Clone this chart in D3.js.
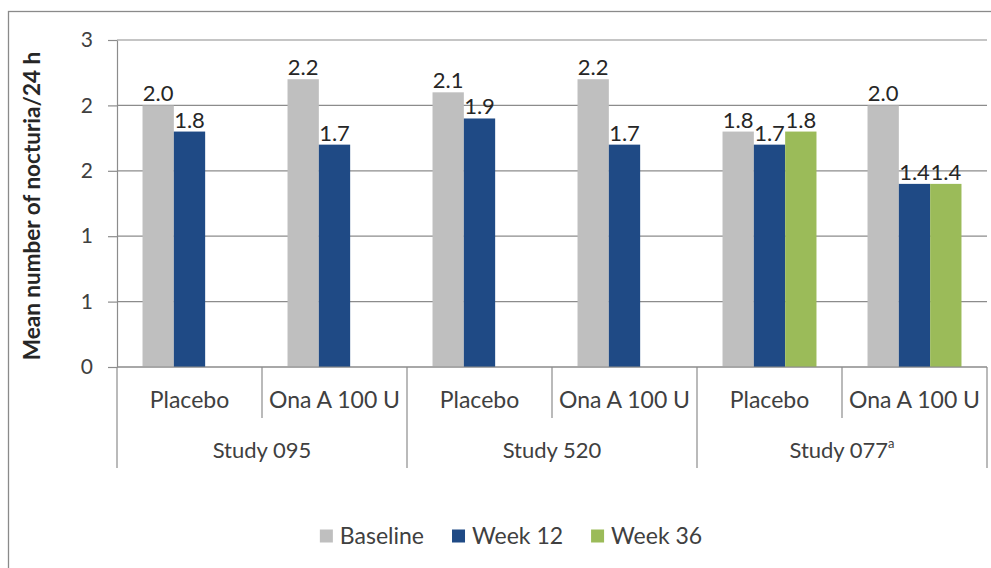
<!DOCTYPE html>
<html>
<head>
<meta charset="utf-8">
<script src="https://cdn.jsdelivr.net/npm/d3@7/dist/d3.min.js"></script>
<style>
  html, body { margin: 0; padding: 0; background: #fff; }
  svg { display: block; font-family: Lato, "Open Sans", sans-serif; }
</style>
</head>
<body>
<svg id="chart" width="991" height="568"></svg>
<script>
// Nocturia episodes per 24 h, by study and treatment arm
const studies = ["Study 095", "Study 520", "Study 077"];
const studyNotes = ["", "", "a"];
const arms = ["Placebo", "Ona A 100 U"];
const seriesNames = ["Baseline", "Week 12", "Week 36"];
const seriesColors = ["#bfbfbf", "#1f4a85", "#9bbb59"];

// one value per study/arm pair, in study order
const baseline = [2.0, 2.2, 2.1, 2.2, 1.8, 2.0];
const week12   = [1.8, 1.7, 1.9, 1.7, 1.7, 1.4];
const week36   = [null, null, null, null, 1.8, 1.4];

// y axis ticks: value positions and the labels printed at them
const yTickValues = [0, 0.5, 1, 1.5, 2, 2.5];
const yTickLabels = ["0", "1", "1", "2", "2", "3"];

const seriesValues = [baseline, week12, week36];
const categories = [];
studies.forEach(s => arms.forEach(a => categories.push(s + "|" + a)));

const svg = d3.select("#chart");
const plot = { left: 117, right: 987, top: 40, bottom: 367 };

// outer frame of the chart area
svg.append("rect").attr("x", 8.5).attr("y", 11.5)
  .attr("width", 1100).attr("height", 700)
  .attr("fill", "#fff").attr("stroke", "#8a8a8a").attr("stroke-width", 1.3);

const x0 = d3.scaleBand().domain(categories).range([plot.left, plot.right]).padding(0);
const x1 = d3.scaleBand().domain(seriesNames).range([0, x0.bandwidth()])
  .paddingInner(0).paddingOuter(0.815);
const y = d3.scaleLinear().domain([0, 2.5]).range([plot.bottom, plot.top]);

const gridColor = "#8c8c8c";
const textColor = "#404040";

// horizontal gridlines
svg.append("g").selectAll("line").data(yTickValues).join("line")
  .attr("x1", plot.left).attr("x2", plot.right)
  .attr("y1", d => y(d)).attr("y2", d => y(d))
  .attr("stroke", gridColor).attr("stroke-width", 1.2);

// y axis
const yAxis = d3.axisLeft(y).tickValues(yTickValues)
  .tickFormat((d, i) => yTickLabels[i]).tickSize(9).tickSizeOuter(0).tickPadding(15);
const gy = svg.append("g").attr("transform", `translate(${plot.left},0)`).call(yAxis);
gy.select(".domain").attr("stroke", gridColor).attr("stroke-width", 1.2);
gy.selectAll(".tick line").attr("stroke", gridColor).attr("stroke-width", 1.2);
gy.selectAll(".tick text").attr("fill", textColor)
  .style("font-family", "Lato, sans-serif").style("font-size", "21px");

// bars
const barData = [];
categories.forEach((c, ci) => {
  seriesNames.forEach((s, si) => {
    const v = seriesValues[si][ci];
    if (v != null) barData.push({ c, s, si, v });
  });
});

svg.append("g").selectAll("rect").data(barData).join("rect")
  .attr("x", d => x0(d.c) + x1(d.s))
  .attr("width", x1.bandwidth())
  .attr("y", d => y(d.v))
  .attr("height", d => y(0) - y(d.v))
  .attr("fill", d => seriesColors[d.si]);

// value labels above bars
svg.append("g").selectAll("text").data(barData).join("text")
  .attr("x", d => x0(d.c) + x1(d.s) + x1.bandwidth() / 2)
  .attr("y", d => y(d.v) - 4)
  .attr("text-anchor", "middle")
  .attr("fill", "#262626")
  .style("font-size", "22px")
  .text(d => d3.format(".1f")(d.v));

// category axis: baseline and two levels of labels
svg.append("line")
  .attr("x1", plot.left).attr("x2", plot.right)
  .attr("y1", y(0)).attr("y2", y(0))
  .attr("stroke", gridColor).attr("stroke-width", 1.2);

const innerBottom = 418, outerBottom = 468;
const sepG = svg.append("g").attr("stroke", gridColor).attr("stroke-width", 1.2);
categories.forEach((c, ci) => {
  if (ci % arms.length !== 0) {
    sepG.append("line").attr("x1", x0(c)).attr("x2", x0(c))
      .attr("y1", y(0)).attr("y2", innerBottom);
  }
});
studies.forEach((s, si) => {
  const xs = x0(categories[si * arms.length]);
  sepG.append("line").attr("x1", xs).attr("x2", xs).attr("y1", y(0)).attr("y2", outerBottom);
});
sepG.append("line").attr("x1", plot.right).attr("x2", plot.right)
  .attr("y1", y(0)).attr("y2", outerBottom);

svg.append("g").selectAll("text").data(categories).join("text")
  .attr("x", c => x0(c) + x0.bandwidth() / 2)
  .attr("y", 408)
  .attr("text-anchor", "middle")
  .attr("fill", textColor)
  .style("font-size", "23px")
  .text(c => c.split("|")[1]);

const outer = svg.append("g");
studies.forEach((s, si) => {
  const xa = x0(categories[si * arms.length]);
  const xb = x0(categories[si * arms.length + arms.length - 1]) + x0.bandwidth();
  const t = outer.append("text")
    .attr("x", (xa + xb) / 2).attr("y", 458)
    .attr("text-anchor", "middle")
    .attr("fill", textColor)
    .style("font-size", "22px");
  t.append("tspan").text(s);
  if (studyNotes[si]) {
    t.append("tspan").attr("dy", -10).style("font-size", "13px").text(studyNotes[si]);
  }
});

// y axis title
svg.append("text")
  .attr("transform", `translate(40,206) rotate(-90)`)
  .attr("text-anchor", "middle")
  .attr("fill", "#262626")
  .style("font-size", "22.5px").style("font-weight", "bold")
  .text("Mean number of nocturia/24 h");

// legend
const legend = svg.append("g");
const sw = 13, gapText = 7, gapItem = 28;
let lx = 0;
seriesNames.forEach((name, i) => {
  const g = legend.append("g");
  g.append("rect").attr("x", 0).attr("y", -sw / 2).attr("width", sw).attr("height", sw)
    .attr("fill", seriesColors[i]);
  const t = g.append("text").attr("x", sw + gapText).attr("y", 8)
    .attr("fill", textColor).style("font-size", "23px").text(name);
  const w = sw + gapText + t.node().getComputedTextLength();
  g.attr("transform", `translate(${lx},0)`);
  lx += w + gapItem;
});
const legendWidth = lx - gapItem;
legend.attr("transform", `translate(${511 - legendWidth / 2},536)`);
</script>
</body>
</html>
